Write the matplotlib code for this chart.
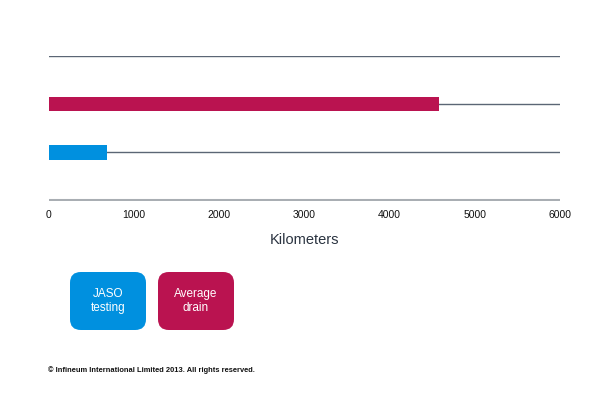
import matplotlib
matplotlib.use("Agg")
import matplotlib.pyplot as plt
from matplotlib.patches import FancyBboxPatch

plt.rcParams["font.family"] = ["Liberation Sans", "DejaVu Sans"]

# data
categories = ["JASO\ntesting", "Average\ndrain"]
km_values = [680, 4580]
bar_colors = ["#0090DF", "#BA1350"]
x_ticks = [0, 1000, 2000, 3000, 4000, 5000, 6000]
x_label = "Kilometers"
footer = "\u00a9 Infineum International Limited 2013. All rights reserved."

W, H = 599, 416
top_px, bot_px = 56.0, 200.5
fig = plt.figure(figsize=(W / 100, H / 100), dpi=100)
ax = fig.add_axes([48.8 / W, (H - bot_px) / H, (560 - 48.8) / W, (bot_px - top_px) / H])

# horizontal lines through each row and at the top
for y in [0, 1, 2]:
    ax.axhline(y, color="#5B6675", lw=1.0, zorder=1)
ax.axhline(-1, color="#A9AEB3", lw=2.2, zorder=1)

ypos = list(range(len(categories)))
ax.barh(ypos, km_values, height=0.3, color=bar_colors, zorder=2)

ax.set_xlim(0, 6000)
ax.set_ylim(-1, 2)
ax.set_yticks([])
ax.set_xticks(x_ticks)
ax.set_xticklabels([str(t) for t in x_ticks], fontsize=7.5, color="#111111")
ax.tick_params(axis="x", length=0, pad=7)
for s in ax.spines.values():
    s.set_visible(False)
ax.set_xlabel(x_label, fontsize=10.5, color="#2A3340", labelpad=9)

# legend boxes
box_w, box_h = 76, 58
box_x = [70, 158]
box_top = 272
for lbl, col, bx in zip(categories, bar_colors, box_x):
    patch = FancyBboxPatch(
        (bx / W, (H - box_top - box_h) / H), box_w / W, box_h / H,
        boxstyle="round,pad=0,rounding_size=0.018",
        transform=fig.transFigure, facecolor=col, edgecolor="none",
        mutation_aspect=W / H,
    )
    fig.patches.append(patch)
    fig.text((bx + box_w / 2) / W, (H - box_top - box_h / 2) / H, lbl,
             ha="center", va="center", color="white", fontsize=8.5,
             linespacing=1.15)

fig.text(48 / W, (H - 370) / H, footer, fontsize=5.4, color="#111111",
         ha="left", va="center", fontweight="bold")

fig.savefig("out.png", dpi=100)
